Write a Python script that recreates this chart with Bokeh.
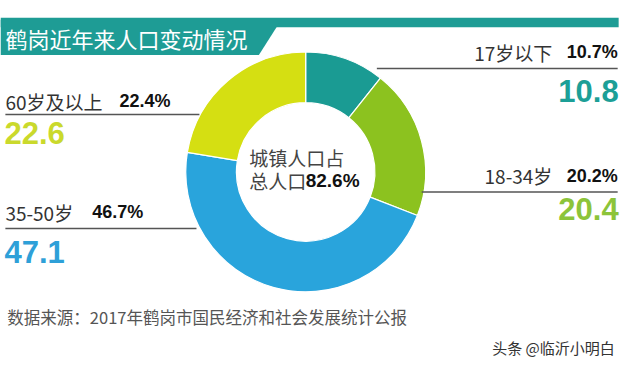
import math
from bokeh.plotting import figure
from bokeh.models import Range1d, ColumnDataSource
from bokeh.core.properties import value
from bokeh.embed import file_html
from bokeh.resources import INLINE

# ---- data ----
title = "鹤岗近年来人口变动情况"
categories = ["17岁以下", "18-34岁", "35-50岁", "60岁及以上"]
values_new = [10.8, 20.4, 47.1, 22.6]      # big numbers (pie)
values_old = [10.7, 20.2, 46.7, 22.4]      # small bold percentages
urban_share = 82.6
source_note = "数据来源：2017年鹤岗市国民经济和社会发展统计公报"
credit = "头条 @临沂小明白"

slice_colors = ["#1a9b93", "#8cc21f", "#29a4dc", "#d5df12"]
number_colors = ["#1c9f97", "#8cc43a", "#2ea0d8", "#cad92c"]

CJK = value("Noto Sans CJK SC")
BOLDNUM = value("Liberation Sans")

W, H = 624, 362
p = figure(width=W, height=H, output_backend="svg", toolbar_location=None,
           x_range=Range1d(0, 640), y_range=Range1d(0, 378),
           min_border=0)
p.axis.visible = False
p.grid.visible = False
p.outline_line_color = None
p.background_fill_color = "white"
p.border_fill_color = "white"


def Y(y):
    return 378 - y


# ---- title banner ----
p.quad(left=0, right=634, top=Y(18), bottom=Y(28), fill_color="#1e9c95", line_color=None)
p.patch(x=[0, 288, 265, 0], y=[Y(20), Y(20), Y(57), Y(57)],
        fill_color="#1e9c95", line_color=None)
p.text(x=[5], y=[Y(39)], text=[title], text_color="white", text_font=CJK,
       text_font_size="22px", text_baseline="middle", text_align="left")

# ---- donut ----
cx, cy = 313, 179
total = sum(values_new)
cum = [0.0]
for v in values_new:
    cum.append(cum[-1] + v / total)
starts = [math.pi / 2 - 2 * math.pi * c for c in cum[:-1]]
ends = [math.pi / 2 - 2 * math.pi * c for c in cum[1:]]
src = ColumnDataSource(dict(start=starts, end=ends, color=slice_colors))
p.annular_wedge(x=cx, y=Y(cy), inner_radius=71, outer_radius=123,
                start_angle="start", end_angle="end", direction="clock",
                fill_color="color", line_color="white", line_width=1.2, source=src)

# center text
p.text(x=[255], y=[Y(164)], text=["城镇人口占"], text_color="#444444", text_font=CJK,
       text_font_size="19px", text_baseline="middle")
p.text(x=[255], y=[Y(188)], text=["总人口"], text_color="#444444", text_font=CJK,
       text_font_size="19px", text_baseline="middle")
p.text(x=[313], y=[Y(188)], text=[f"{urban_share}%"], text_color="#111111", text_font=BOLDNUM,
       text_font_style="bold", text_font_size="19px", text_baseline="middle")

# ---- labels ----
side = ["right", "right", "left", "left"]
label_y = [54, 183, 221, 105]
line_y = [71, 200, 238, 119]
line_x0 = [386, 432, 5, 5]
line_x1 = [633, 633, 201, 204]
num_y = [94, 218, 263, 138]

for i, cat in enumerate(categories):
    ly = label_y[i]
    if side[i] == "right":
        p.text(x=[633], y=[Y(ly)], text=[f"{values_old[i]}%"], text_color="#111111",
               text_font=BOLDNUM, text_font_style="bold", text_font_size="18px",
               text_baseline="middle", text_align="right")
        p.text(x=[566], y=[Y(ly)], text=[cat], text_color="#333333", text_font=CJK,
               text_font_size="19px", text_baseline="middle", text_align="right")
        p.text(x=[634], y=[Y(num_y[i])], text=[f"{values_new[i]}"], text_color=number_colors[i],
               text_font=BOLDNUM, text_font_style="bold", text_font_size="31px",
               text_baseline="middle", text_align="right")
    else:
        p.text(x=[5], y=[Y(ly)], text=[cat], text_color="#333333", text_font=CJK,
               text_font_size="19px", text_baseline="middle", text_align="left")
        pct_x = 122 if i == 3 else 94
        p.text(x=[pct_x], y=[Y(ly)], text=[f"{values_old[i]}%"], text_color="#111111",
               text_font=BOLDNUM, text_font_style="bold", text_font_size="18px",
               text_baseline="middle", text_align="left")
        p.text(x=[4], y=[Y(num_y[i])], text=[f"{values_new[i]}"], text_color=number_colors[i],
               text_font=BOLDNUM, text_font_style="bold", text_font_size="31px",
               text_baseline="middle", text_align="left")
    p.segment(x0=[line_x0[i]], y0=[Y(line_y[i])], x1=[line_x1[i]], y1=[Y(line_y[i])],
              line_color="#555555", line_width=1.5)

# ---- footer ----
p.text(x=[7], y=[Y(331)], text=[source_note], text_color="#555555", text_font=CJK,
       text_font_size="16.5px", text_baseline="middle")
p.text(x=[630], y=[Y(362)], text=[credit], text_color="#333333", text_font=CJK,
       text_font_size="15px", text_baseline="middle", text_align="right")

open("out.html", "w").write(file_html(p, INLINE))
